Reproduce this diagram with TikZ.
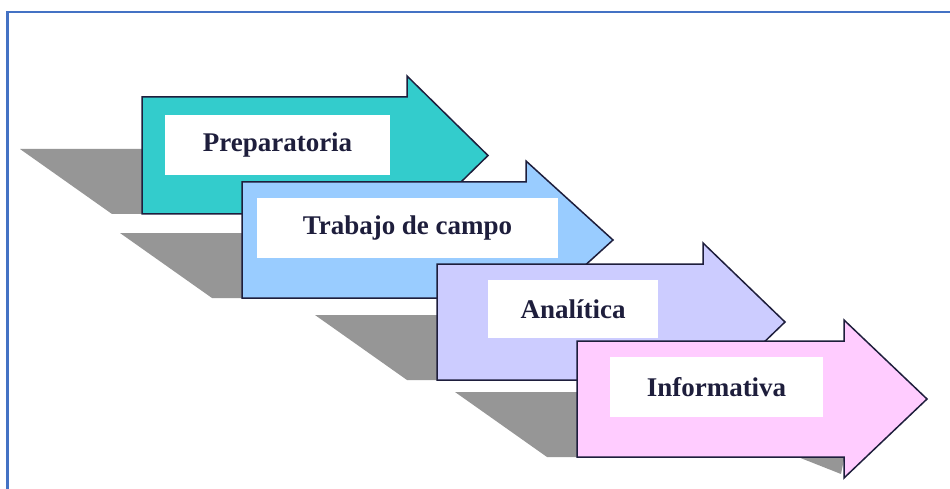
\documentclass[tikz,border=0pt]{standalone}
\usepackage{fontspec}
\setmainfont{Liberation Serif}
\definecolor{framecol}{HTML}{4472C4}
\definecolor{edgecol}{HTML}{1E1E3C}
\definecolor{shadecol}{HTML}{969696}
\definecolor{tealcol}{HTML}{33CCCC}
\definecolor{bluecol}{HTML}{99CCFF}
\definecolor{lavcol}{HTML}{CCCCFF}
\definecolor{pinkcol}{HTML}{FFCCFF}
\newcommand\phaseshadow[4]{% L B H P
  \fill[shadecol] ({#1-122},{#2-65}) -- ({#3-122},{#2-65}) -- ({#3-138},{#2-77})
    -- ({#4-76},{#2-32}) -- ({#3-3},{#2+17}) -- ({#3-46},{#2}) -- ({#1-30},{#2}) -- cycle;}
\newcommand\phasearrow[6]{% colour L T B H P
  \draw[arrowedge, fill=#1] (#2,#3) -- (#5,#3) -- (#5,{#3-21}) -- (#6,{(#3+#4)/2})
    -- (#5,{#4+21}) -- (#5,#4) -- (#2,#4) -- cycle;}
\begin{document}
\begin{tikzpicture}[x=1pt,y=-1pt,
  arrowedge/.style={draw=edgecol, line width=1.5pt, line join=miter},
  labelbox/.style={fill=white, draw=none, inner sep=0pt, font=\bfseries\fontsize{27}{30}\selectfont, text=edgecol}]
\useasboundingbox (0,0) rectangle (950,489);
\fill[white] (0,0) rectangle (950,489);
\draw[framecol, line width=2.2pt] (7.5,489) -- (7.5,12) -- (950,12);
% phase 1
\phaseshadow{142}{214}{407}{488}
\phasearrow{tealcol}{142}{97}{214}{407}{488}
\node[labelbox, minimum width=225pt, minimum height=60pt] (lab1) at (277.5,145) {Preparatoria};
% phase 2
\phaseshadow{242}{298}{526}{613}
\phasearrow{bluecol}{242}{182}{298}{526}{613}
\node[labelbox, minimum width=301pt, minimum height=60pt] (lab2) at (407.5,228) {Trabajo de campo};
% phase 3
\phaseshadow{437}{380}{703}{785}
\phasearrow{lavcol}{437}{264}{380}{703}{785}
\node[labelbox, minimum width=170pt, minimum height=58pt] (lab3) at (573,309) {Analítica};
% phase 4
\phaseshadow{577}{457}{844}{927}
\phasearrow{pinkcol}{577}{341}{457}{844}{927}
\node[labelbox, minimum width=213pt, minimum height=60pt] (lab4) at (716.5,387) {Informativa};
\end{tikzpicture}
\end{document}
